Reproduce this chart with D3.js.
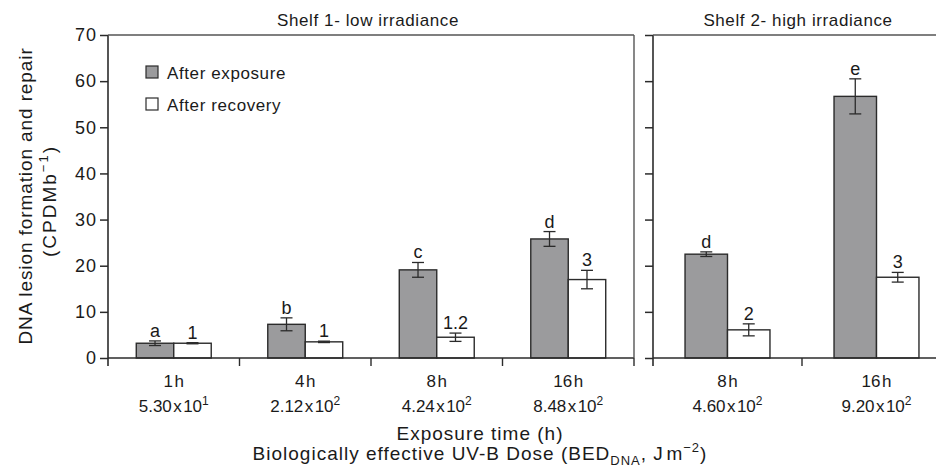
<!DOCTYPE html>
<html>
<head>
<meta charset="utf-8">
<script src="https://cdn.jsdelivr.net/npm/d3@7"></script>
<style>
  html, body { margin: 0; padding: 0; background: #fff; }
  svg { display: block; }
  text { font-family: "Liberation Sans", Arial, Helvetica, sans-serif; fill: #1a1a1a; }
</style>
</head>
<body>
<svg id="chart" width="936" height="474"></svg>
<script>
// ---------- data ----------
const shelf1Categories = ["1h", "4h", "8h", "16h"];
const shelf1Doses = [["5.30", "1"], ["2.12", "2"], ["4.24", "2"], ["8.48", "2"]];
const shelf1Exposure = [3.2, 7.3, 19.1, 25.8];
const shelf1ExposureErr = [0.5, 1.4, 1.6, 1.6];
const shelf1Recovery = [3.2, 3.5, 4.5, 17.0];
const shelf1RecoveryErr = [0.12, 0.15, 0.9, 2.0];
const shelf1ExposureLetters = ["a", "b", "c", "d"];
const shelf1RecoveryLetters = ["1", "1", "1.2", "3"];

const shelf2Categories = ["8h", "16h"];
const shelf2Doses = [["4.60", "2"], ["9.20", "2"]];
const shelf2Exposure = [22.5, 56.7];
const shelf2ExposureErr = [0.5, 3.8];
const shelf2Recovery = [6.1, 17.5];
const shelf2RecoveryErr = [1.3, 1.05];
const shelf2ExposureLetters = ["d", "e"];
const shelf2RecoveryLetters = ["2", "3"];

const yTicks = [0, 10, 20, 30, 40, 50, 60, 70];
const seriesNames = ["After exposure", "After recovery"];
const panelTitles = ["Shelf 1- low irradiance", "Shelf 2- high irradiance"];

// ---------- layout ----------
const svg = d3.select("#chart");
const AX = "#2b2b2b";
const GRAY = "#9b9b9d";
const plotTop = 35, plotBottom = 358;
const y = d3.scaleLinear().domain([0, 70]).range([plotBottom, plotTop]);

function drawPanel(opts) {
  const { x0, x1, cats, doses, exp, expErr, rec, recErr, expL, recL, labels, title, titleX, rightBorder, topEnd } = opts;
  const x = d3.scaleBand().domain(cats).range([x0, x1]).padding(0);
  const bw = x.bandwidth() * 0.285;
  const g = svg.append("g");

  cats.forEach((c, i) => {
    const cx = x(c) + x.bandwidth() / 2;
    const pairs = [
      { v: exp[i], e: expErr[i], fill: GRAY, xs: cx - bw, lab: expL[i] },
      { v: rec[i], e: recErr[i], fill: "#ffffff", xs: cx, lab: recL[i] }
    ];
    pairs.forEach(p => {
      g.append("rect")
        .attr("x", p.xs).attr("y", y(p.v))
        .attr("width", bw).attr("height", y(0) - y(p.v))
        .attr("fill", p.fill).attr("stroke", AX).attr("stroke-width", 1.4);
      const mx = p.xs + bw / 2;
      const hi = y(p.v + p.e), lo = y(p.v - p.e);
      g.append("line").attr("x1", mx).attr("x2", mx).attr("y1", hi).attr("y2", lo)
        .attr("stroke", AX).attr("stroke-width", 1.3);
      [hi, lo].forEach(yy => g.append("line")
        .attr("x1", mx - 6).attr("x2", mx + 6).attr("y1", yy).attr("y2", yy)
        .attr("stroke", AX).attr("stroke-width", 1.3));
      g.append("text").attr("x", mx).attr("y", hi - 4)
        .attr("text-anchor", "middle").attr("font-size", 18)
        .text(p.lab);
    });

    g.append("text").attr("x", cx).attr("y", 387)
      .attr("text-anchor", "middle").attr("font-size", 17)
      .text(c.replace("h", "\u200Ah"));
    const dt = g.append("text").attr("x", cx).attr("y", 412)
      .attr("text-anchor", "middle").attr("font-size", 17);
    dt.append("tspan").text(doses[i][0] + "\u200Ax\u200A10");
    dt.append("tspan").attr("dy", -7).attr("font-size", 12).text(doses[i][1]);
  });

  // y axis
  const yAxis = d3.axisLeft(y).tickValues(yTicks).tickSize(8).tickPadding(3)
    .tickFormat(labels ? d3.format("d") : () => "");
  const ya = g.append("g").attr("transform", `translate(${x0},0)`).call(yAxis);
  ya.select(".domain").remove();
  ya.selectAll(".tick line").attr("stroke", AX).attr("stroke-width", 1.5);
  ya.selectAll(".tick text").attr("font-size", 18).attr("fill", "#1a1a1a")
    .attr("letter-spacing", 1)
    .attr("font-family", "Liberation Sans, Arial, sans-serif");
  g.append("line").attr("x1", x0).attr("x2", x0).attr("y1", plotTop).attr("y2", plotBottom + 8)
    .attr("stroke", AX).attr("stroke-width", 1.6);

  // bottom axis line and boundary ticks
  g.append("line").attr("x1", x0).attr("x2", x1).attr("y1", plotBottom).attr("y2", plotBottom)
    .attr("stroke", AX).attr("stroke-width", 1.6);
  const bounds = cats.map(c => x(c)).concat([x(cats[cats.length - 1]) + x.bandwidth()]);
  bounds.slice(1).forEach(bx => g.append("line")
    .attr("x1", bx).attr("x2", bx).attr("y1", plotBottom).attr("y2", plotBottom + 8)
    .attr("stroke", AX).attr("stroke-width", 1.4));

  // top border
  g.append("line").attr("x1", x0).attr("x2", topEnd).attr("y1", plotTop).attr("y2", plotTop)
    .attr("stroke", "#555").attr("stroke-width", 1.4);
  if (rightBorder) {
    g.append("line").attr("x1", x1).attr("x2", x1).attr("y1", plotTop).attr("y2", plotBottom)
      .attr("stroke", "#555").attr("stroke-width", 1.4);
  }

  svg.append("text").attr("x", titleX).attr("y", 26)
    .attr("text-anchor", "middle").attr("font-size", 17).attr("letter-spacing", 0.6)
    .text(title);
}

drawPanel({
  x0: 108, x1: 634, cats: shelf1Categories, doses: shelf1Doses,
  exp: shelf1Exposure, expErr: shelf1ExposureErr, rec: shelf1Recovery, recErr: shelf1RecoveryErr,
  expL: shelf1ExposureLetters, recL: shelf1RecoveryLetters, labels: true,
  title: panelTitles[0], titleX: 368, rightBorder: true, topEnd: 634
});
drawPanel({
  x0: 653, x1: 951, cats: shelf2Categories, doses: shelf2Doses,
  exp: shelf2Exposure, expErr: shelf2ExposureErr, rec: shelf2Recovery, recErr: shelf2RecoveryErr,
  expL: shelf2ExposureLetters, recL: shelf2RecoveryLetters, labels: false,
  title: panelTitles[1], titleX: 798, rightBorder: false, topEnd: 951
});

// legend
const legend = svg.append("g");
seriesNames.forEach((name, i) => {
  const ly = 72 + i * 32;
  legend.append("rect").attr("x", 146).attr("y", ly - 6).attr("width", 12).attr("height", 12)
    .attr("fill", i === 0 ? GRAY : "#fff").attr("stroke", AX).attr("stroke-width", 1.2);
  legend.append("text").attr("x", 167).attr("y", ly + 6.5)
    .attr("font-size", 17).attr("letter-spacing", 0.6).text(name);
});

// y axis title
const yt = svg.append("g").attr("transform", "translate(0,196)");
yt.append("text").attr("transform", "translate(32,0) rotate(-90)")
  .attr("text-anchor", "middle").attr("font-size", 19).attr("letter-spacing", 0.9)
  .text("DNA lesion formation and repair");
const yt2 = yt.append("text").attr("transform", "translate(56,5) rotate(-90)")
  .attr("text-anchor", "middle").attr("font-size", 19).attr("letter-spacing", 2);
yt2.append("tspan").text("(CPDMb");
yt2.append("tspan").attr("dy", -8).attr("font-size", 13).text("\u22121");
yt2.append("tspan").attr("dy", 8).text(")");

// x axis titles
svg.append("text").attr("x", 480).attr("y", 440)
  .attr("text-anchor", "middle").attr("font-size", 19).attr("letter-spacing", 1.0)
  .text("Exposure time (h)");
const xt2 = svg.append("text").attr("x", 480).attr("y", 460)
  .attr("text-anchor", "middle").attr("font-size", 19).attr("letter-spacing", 1.0);
xt2.append("tspan").text("Biologically effective UV-B Dose (BED");
xt2.append("tspan").attr("dy", 5).attr("font-size", 13).text("DNA");
xt2.append("tspan").attr("dy", -5).text(", J\u200Am");
xt2.append("tspan").attr("dy", -8).attr("font-size", 13).text("\u22122");
xt2.append("tspan").attr("dy", 8).text(")");
</script>
</body>
</html>
